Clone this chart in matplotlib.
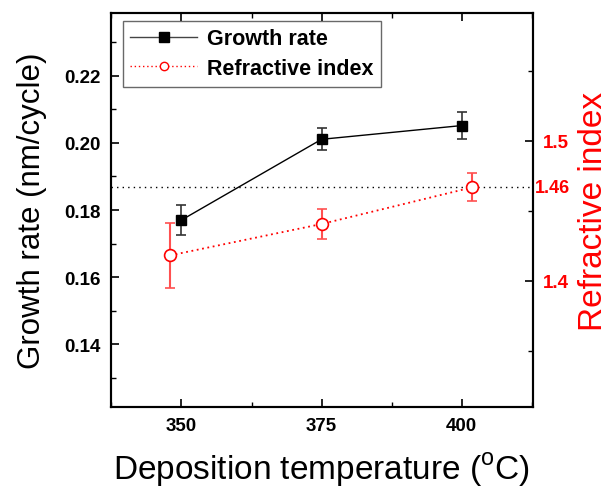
import matplotlib
matplotlib.use("Agg")
import matplotlib.pyplot as plt
from matplotlib.lines import Line2D
from matplotlib.ticker import MultipleLocator

plt.rcParams["font.family"] = ["Liberation Sans", "DejaVu Sans"]

# data
temps = [350, 375, 400]
growth = [0.1770, 0.2011, 0.2052]
growth_err = [0.0046, 0.0033, 0.0040]

ri_temps = [348.0, 375.0, 401.9]
ri = [1.4181, 1.4405, 1.4667]
ri_err = [0.023, 0.0105, 0.010]

ref_line = 1.4667
ref_label = "1.46"

fig = plt.figure(figsize=(6.09, 4.89), dpi=100)
ax = fig.add_axes([0.182, 0.1656, 0.693, 0.8058])
ax2 = ax.twinx()

ax.errorbar(temps, growth, yerr=growth_err, color="black", lw=1.0,
            marker="s", ms=7.5, mfc="black", mec="black",
            ecolor="#333333", elinewidth=1.2, capsize=3.5, capthick=1.2,
            zorder=3)

ax2.errorbar(ri_temps, ri, yerr=ri_err, color="red", lw=1.3, ls=(0, (1, 2)),
             marker="o", ms=8.5, mfc="white", mec="red", mew=1.2,
             ecolor="#ff5050", elinewidth=1.5, capsize=3.5, capthick=1.5,
             zorder=3)
ax2.axhline(ref_line, color="black", lw=1.0, ls=(0, (1, 3)), zorder=1)
ax2.text(1.005, ref_line, ref_label, transform=ax2.get_yaxis_transform(),
         color="red", fontsize=13, fontweight="bold", va="center", ha="left")

ax.set_xlim(337.4, 412.7)
ax.set_ylim(0.1212, 0.2388)
ax2.set_ylim(1.3098, 1.5912)

ax.xaxis.set_major_locator(MultipleLocator(25))
ax.xaxis.set_minor_locator(MultipleLocator(12.5))
ax.yaxis.set_major_locator(MultipleLocator(0.02))
ax.yaxis.set_minor_locator(MultipleLocator(0.01))
ax2.yaxis.set_major_locator(MultipleLocator(0.1))
ax2.yaxis.set_minor_locator(MultipleLocator(0.05))

ax.yaxis.set_major_formatter(plt.FuncFormatter(lambda v, p: f"{v:.2f}"))
ax2.yaxis.set_major_formatter(plt.FuncFormatter(lambda v, p: f"{v:g}"))

ax.tick_params(axis="both", which="both", direction="in", top=True)
ax.tick_params(which="major", length=6, width=1.2, labelsize=13.5, pad=7)
ax.tick_params(which="minor", length=3.5, width=1.0)
ax.tick_params(axis="y", right=False)
ax2.tick_params(which="both", direction="in")
ax2.tick_params(which="major", length=6, width=1.2, labelsize=13.5,
                labelcolor="red", pad=7)
ax2.tick_params(which="minor", length=3.5, width=1.0)

for lab in ax.get_xticklabels() + ax.get_yticklabels() + ax2.get_yticklabels():
    lab.set_fontweight("bold")

for a in (ax, ax2):
    for s in a.spines.values():
        s.set_linewidth(1.5)

ax.set_xlabel("Deposition temperature ($^{\\mathregular{o}}$C)", fontsize=24, labelpad=12)
ax.set_ylabel("Growth rate (nm/cycle)", fontsize=22.5, labelpad=13)
ax2.set_ylabel("Refractive index", fontsize=24, color="red", labelpad=7)

legend_handles = [
    Line2D([], [], color="#444444", lw=1.0, marker="s", ms=7, mfc="black", mec="black"),
    Line2D([], [], color="red", lw=1.0, ls=(0, (1, 2)), marker="o", ms=6,
           mfc="white", mec="red"),
]
leg = ax.legend(legend_handles, ["Growth rate", "Refractive index"],
                loc="upper left", bbox_to_anchor=(0.028, 0.98),
                frameon=True, fancybox=False, edgecolor="#444444",
                prop={"weight": "bold", "size": 15.5}, handlelength=3.1,
                borderpad=0.35, labelspacing=0.4, handletextpad=0.45,
                borderaxespad=0)
leg.get_frame().set_linewidth(1.0)

fig.savefig("out.png", dpi=100)
